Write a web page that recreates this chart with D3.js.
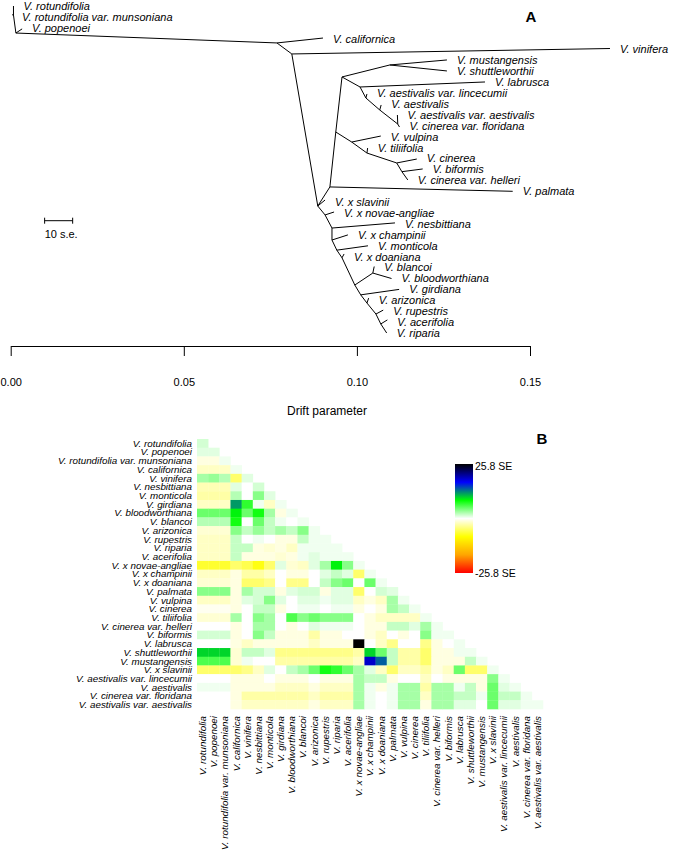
<!DOCTYPE html>
<html><head><meta charset="utf-8">
<script src="https://cdn.jsdelivr.net/npm/d3@7"></script>
<style>body{margin:0;background:#fff} svg{display:block} text{font-family:"Liberation Sans",Arial,Helvetica,sans-serif}</style>
</head><body><svg id="c" width="673" height="859"></svg>
<script>
// ---------- Panel A: tree (drift units, leaf slot units) ----------
const treeNodes = [
  {id:"R1", parent:null, drift:0.0769, slot:3.39},
  {id:"B", parent:"R1", drift:0.0015, slot:2.48},
  {id:"A", parent:"B", drift:0.0008, slot:0.83},
  {id:"V. rotundifolia", parent:"A", drift:0.0008, slot:0, leaf:true},
  {id:"V. rotundifolia var. munsoniana", parent:"A", drift:0.0004, slot:0.8, leaf:true},
  {id:"V. popenoei", parent:"B", drift:0.0033, slot:2.1, leaf:true},
  {id:"V. californica", parent:"R1", drift:0.0902, slot:2.94, leaf:true},
  {id:"C", parent:"R1", drift:0.0812, slot:4.40},
  {id:"V. vinifera", parent:"C", drift:0.1731, slot:3.9, leaf:true},
  {id:"G", parent:"C", drift:0.0887, slot:18.35},
  {id:"V. x slavinii", parent:"G", drift:0.0908, slot:17.8, leaf:true},
  {id:"U", parent:"G", drift:0.0908, slot:19.17},
  {id:"V. x novae-angliae", parent:"U", drift:0.0934, slot:18.9, leaf:true},
  {id:"H", parent:"U", drift:0.0928, slot:20.37},
  {id:"V. nesbittiana", parent:"H", drift:0.1110, slot:19.9, leaf:true},
  {id:"V2", parent:"H", drift:0.0928, slot:21.47},
  {id:"V. x champinii", parent:"V2", drift:0.0974, slot:21.0, leaf:true},
  {id:"W", parent:"V2", drift:0.0942, slot:22.4},
  {id:"V. monticola", parent:"W", drift:0.1032, slot:22.0, leaf:true},
  {id:"X", parent:"W", drift:0.0957, slot:23.1},
  {id:"V. x doaniana", parent:"X", drift:0.0963, slot:22.75, leaf:true},
  {id:"Y", parent:"X", drift:0.0994, slot:25.6},
  {id:"Z", parent:"Y", drift:0.1046, slot:24.5},
  {id:"V. blancoi", parent:"Z", drift:0.1050, slot:23.9, leaf:true},
  {id:"V. bloodworthiana", parent:"Z", drift:0.1100, slot:25.0, leaf:true},
  {id:"AA", parent:"Y", drift:0.1011, slot:26.5},
  {id:"V. girdiana", parent:"AA", drift:0.1122, slot:26.0, leaf:true},
  {id:"AB", parent:"AA", drift:0.1029, slot:27.25},
  {id:"V. arizonica", parent:"AB", drift:0.1034, slot:26.8, leaf:true},
  {id:"AC", parent:"AB", drift:0.1055, slot:28.26},
  {id:"V. rupestris", parent:"AC", drift:0.1076, slot:27.9, leaf:true},
  {id:"AD", parent:"AC", drift:0.1069, slot:29.17},
  {id:"V. acerifolia", parent:"AD", drift:0.1088, slot:28.8, leaf:true},
  {id:"V. riparia", parent:"AD", drift:0.1086, slot:30, leaf:true},
  {id:"F", parent:"G", drift:0.0922, slot:16.6},
  {id:"V. palmata", parent:"F", drift:0.1450, slot:17, leaf:true},
  {id:"I", parent:"F", drift:0.0939, slot:11.56},
  {id:"E", parent:"I", drift:0.0957, slot:6.51},
  {id:"P", parent:"E", drift:0.1095, slot:5.41},
  {id:"V. mustangensis", parent:"P", drift:0.1260, slot:4.95, leaf:true},
  {id:"V. shuttleworthii", parent:"P", drift:0.1260, slot:5.96, leaf:true},
  {id:"Q", parent:"E", drift:0.1009, slot:7.43},
  {id:"V. labrusca", parent:"Q", drift:0.1370, slot:6.97, leaf:true},
  {id:"R", parent:"Q", drift:0.1026, slot:8.44},
  {id:"V. aestivalis var. lincecumii", parent:"R", drift:0.1029, slot:8.07, leaf:true},
  {id:"S", parent:"R", drift:0.1066, slot:9.54},
  {id:"V. aestivalis", parent:"S", drift:0.1070, slot:9.08, leaf:true},
  {id:"T", parent:"S", drift:0.1118, slot:10.83},
  {id:"V. aestivalis var. aestivalis", parent:"T", drift:0.1117, slot:10.0, leaf:true},
  {id:"V. cinerea var. floridana", parent:"T", drift:0.1123, slot:11.1, leaf:true},
  {id:"K", parent:"I", drift:0.0985, slot:12.48},
  {id:"V. vulpina", parent:"K", drift:0.1069, slot:11.93, leaf:true},
  {id:"L", parent:"K", drift:0.1029, slot:13.49},
  {id:"V. tiliifolia", parent:"L", drift:0.1031, slot:13.03, leaf:true},
  {id:"M", parent:"L", drift:0.1115, slot:14.4},
  {id:"V. cinerea", parent:"M", drift:0.1173, slot:14.04, leaf:true},
  {id:"N", parent:"M", drift:0.1130, slot:15.2},
  {id:"V. biformis", parent:"N", drift:0.1190, slot:14.95, leaf:true},
  {id:"V. cinerea var. helleri", parent:"N", drift:0.1147, slot:15.96, leaf:true}
];
const driftTicks = [0, 0.05, 0.10, 0.15];
const scaleBarSE = 10;            // the scale bar represents 10 s.e.
const scaleBarDrift = 0.0081;     // its length in drift units

// ---------- Panel B: residuals ----------
const popOrder = ["V. rotundifolia","V. popenoei","V. rotundifolia var. munsoniana","V. californica","V. vinifera","V. nesbittiana","V. monticola","V. girdiana","V. bloodworthiana","V. blancoi","V. arizonica","V. rupestris","V. riparia","V. acerifolia","V. x novae-angliae","V. x champinii","V. x doaniana","V. palmata","V. vulpina","V. cinerea","V. tiliifolia","V. cinerea var. helleri","V. biformis","V. labrusca","V. shuttleworthii","V. mustangensis","V. x slavinii","V. aestivalis var. lincecumii","V. aestivalis","V. cinerea var. floridana","V. aestivalis var. aestivalis"];
const residualRows = [
 [1.5],
 [1,1],
 [-1,-1,0.5],
 [-2,-2,-2,0.5],
 [3,3.5,2.5,-5,1],
 [-2.5,-2.5,-2.5,1,0,1.5],
 [-3,-3,-3,2.5,0,4,1],
 [-2,-2,-2,12,7,0.5,-2,0.5],
 [5,5,5,9,5,8,3,-1,0.5],
 [2.5,2.5,2.5,8,0,5,2,0.5,0,0.5],
 [-1.5,-1.5,-1.5,4,2,3.5,2,3,2,4,0.5],
 [-2,-2,-2,2,0,0.5,0,-1,-1,2,0.5,0.5],
 [-2,-2,-2,2,2,-1,-1.5,-1,-2,0.5,0.5,0.5,0.5],
 [-2,-2,-2,2,-1,-1,-1,-1.5,-1,0.5,1,0.5,0.5,0.5],
 [-7,-7,-7,-5,-6,-8,-5,1,-1.5,-2,1,3,9,4,0.5],
 [-2,-2,-2,-1,-3,-3,-2,0,-1,-1,0,1,2,1,-5,0.5],
 [-1.5,-1.5,-1.5,-1,-5,-5,-4,0,-4,-4,0,2,4,5,0,5,0.5],
 [4,4,4,-1,3,1.5,1.5,-1,1,1.5,1.5,-1,1,1,-5,0,1.5,1],
 [-2,-2,-2,-1,1,1.5,4,1,0,1,1,0.5,1,1,-2,-1,-2,3,0.5],
 [-0.5,-0.5,-0.5,-1,0,2,2,-1,0,0.5,0.5,0,0.5,0.5,-1,0,-1,3,2,0.5],
 [-1.5,-1.5,-1.5,3,0,4,3,0,6,4,5,4,4,4,0,-1,-2,-2,-2,-2,0.5],
 [0,0,0,-1,0,3,3,0,-1,0,1,0.5,0.5,0.5,0,-1,-1,2,2,1,3,0.5],
 [1.5,1.5,1.5,-1,0,4,2,-1,-1,-1,-3,-1,-1,0,0,-1,-2,0,-1,0,4,0.5,0.5],
 [0,0,0,-1,-2,-1,-1,-1,-1,-1,-2,-1,-1,-1,25.8,0,-2,-4,0,0,-4,-1,0,0.5],
 [10,10,10,-1.5,2,2,1,-4,-4,-4,-4,-4,-4,-4,-3,10,5,2,-3,-3,-5,-1,-1,0.5,0.5],
 [6,6,6,-1.5,0.5,0,0,-3,-3,-3,-3,-3,-3,-3,-2,19,14,2,-3,-3,-5,-1,-1,-1,2,0.5],
 [-5,-5,-5,-5,-4,-2,1,0,2,3,5,8,7,5,3,1,-2,-5,-2,-2,-3,-1,-2,5,-5,-5,0.5],
 [0,0,0,-1,-1,-1,0,-1,-1,-1,0,-1,-1,-1,3,2,2,-1,0,0,-2,0,-1,-1,-1,-1,4,0.5],
 [0.5,0.5,0.5,-1,-1,-1,-1,-2,-2,-2,-1,-2,-2,-2,3,0.5,-1,0.5,3,3,-3,3,3,0.5,2,-1,5,1,0.5],
 [0,0,0,-1,-3,-3,-3,-3,-3,-3,-2,-3,-3,-3,3,0.5,0,0.5,3,3,-2,3,3,2,2,0.5,5,2,2,0.5],
 [0,0,0,-1,-2,-2,-2,-2,-2,-2,-1,-2,-2,-2,3,0.5,0,0.5,3,3,-1,3,3,1,1,0,5,1,1,0.5,0.5]
];
const seMax = 25.8;
const colorStops = ["#ff0000","#ffa500","#ffff00","#ffffff","#00ff00","#0000ff","#000000"];
const legendLabels = ["25.8 SE", "-25.8 SE"];

// ================= drawing =================
const svg = d3.select("#c");
const font = '"Liberation Sans",Arial,Helvetica,sans-serif';

// ---- Panel A ----
const x = d3.scaleLinear().domain([0, 0.15]).range([10.7, 530]);
const y = d3.scaleLinear().domain([0, 30]).range([6, 333]);
const byId = new Map(treeNodes.map(d => [d.id, d]));
const gA = svg.append("g");
gA.selectAll("line.edge").data(treeNodes.filter(d => d.parent)).join("line")
  .attr("class","edge")
  .attr("x1", d => x(byId.get(d.parent).drift)).attr("y1", d => y(byId.get(d.parent).slot))
  .attr("x2", d => x(d.drift)).attr("y2", d => y(d.slot))
  .attr("stroke","#000").attr("stroke-width",1);
gA.selectAll("text.tip").data(treeNodes.filter(d => d.leaf)).join("text")
  .attr("class","tip")
  .attr("x", d => x(d.drift) + 10).attr("y", d => y(Math.round(d.slot)))
  .attr("dy","0.35em").attr("font-size",11).attr("font-style","italic")
  .text(d => d.id);
gA.append("text").attr("x",531).attr("y",22).attr("text-anchor","middle")
  .attr("font-size",15).attr("font-weight","bold").text("A");
// scale bar
const sb = gA.append("g");
const sbx0 = x(0.0098), sbx1 = x(0.0098 + scaleBarDrift), sby = 220.7;
sb.append("line").attr("x1",sbx0).attr("x2",sbx1).attr("y1",sby).attr("y2",sby).attr("stroke","#000");
[sbx0,sbx1].forEach(v => sb.append("line").attr("x1",v).attr("x2",v).attr("y1",sby-3).attr("y2",sby+3).attr("stroke","#000"));
sb.append("text").attr("x",sbx0).attr("y",234).attr("dy","0.35em").attr("font-size",11).text(scaleBarSE + " s.e.");
// axis
const ax = gA.append("g").attr("transform","translate(0,346)")
  .call(d3.axisBottom(x).tickValues(driftTicks).tickFormat(d3.format(".2f")).tickSize(10).tickSizeOuter(0).tickPadding(22));
ax.selectAll("text").attr("font-size",11).attr("font-family",font).attr("fill","#000");
ax.selectAll("line,path").attr("stroke","#000");

// ---- Panel B ----
const hx = d3.scaleBand().domain(popOrder).range([197, 543]);
const hy = d3.scaleBand().domain(popOrder).range([439, 709]);
const col = d3.scaleLinear().domain(d3.range(7).map(i => -seMax + i * seMax / 3)).range(colorStops).clamp(true);
const cells = [];
residualRows.forEach((row, i) => row.forEach((v, j) => cells.push({r: popOrder[i], c: popOrder[j], v})));
const gB = svg.append("g");
gB.selectAll("rect.cell").data(cells).join("rect").attr("class","cell")
  .attr("x", d => hx(d.c)).attr("y", d => hy(d.r))
  .attr("width", hx.bandwidth() + 0.3).attr("height", hy.bandwidth() + 0.3)
  .attr("fill", d => col(d.v));
gB.selectAll("text.rl").data(popOrder).join("text").attr("class","rl")
  .attr("x",192).attr("y", d => hy(d) + hy.bandwidth()/2).attr("dy","0.35em")
  .attr("text-anchor","end").attr("font-size",9.8).attr("font-style","italic").text(d => d);
gB.selectAll("text.cl").data(popOrder).join("text").attr("class","cl")
  .attr("transform", d => `translate(${hx(d) + hx.bandwidth()/2},716) rotate(-90)`)
  .attr("dy","0.35em").attr("text-anchor","end").attr("font-size",9.8).attr("font-style","italic").text(d => d);
gB.append("text").attr("x",327).attr("y",411).attr("dy","0.35em").attr("text-anchor","middle").attr("font-size",12).text("Drift parameter");
gB.append("text").attr("x",542).attr("y",444).attr("text-anchor","middle").attr("font-size",15).attr("font-weight","bold").text("B");
// legend bar
const defs = svg.append("defs");
const grad = defs.append("linearGradient").attr("id","lg").attr("x1",0).attr("x2",0).attr("y1",1).attr("y2",0);
const ly = d3.scaleLinear().domain([-seMax, seMax]).range([0, 1]);
col.domain().forEach((v,i) => grad.append("stop").attr("offset", ly(v)).attr("stop-color", colorStops[i]));
gB.append("rect").attr("x",455).attr("y",464).attr("width",18).attr("height",109).attr("fill","url(#lg)");
gB.append("text").attr("x",475).attr("y",466).attr("dy","0.35em").attr("font-size",10.5).text(legendLabels[0]);
gB.append("text").attr("x",475).attr("y",573).attr("dy","0.35em").attr("font-size",10.5).text(legendLabels[1]);
</script></body></html>
